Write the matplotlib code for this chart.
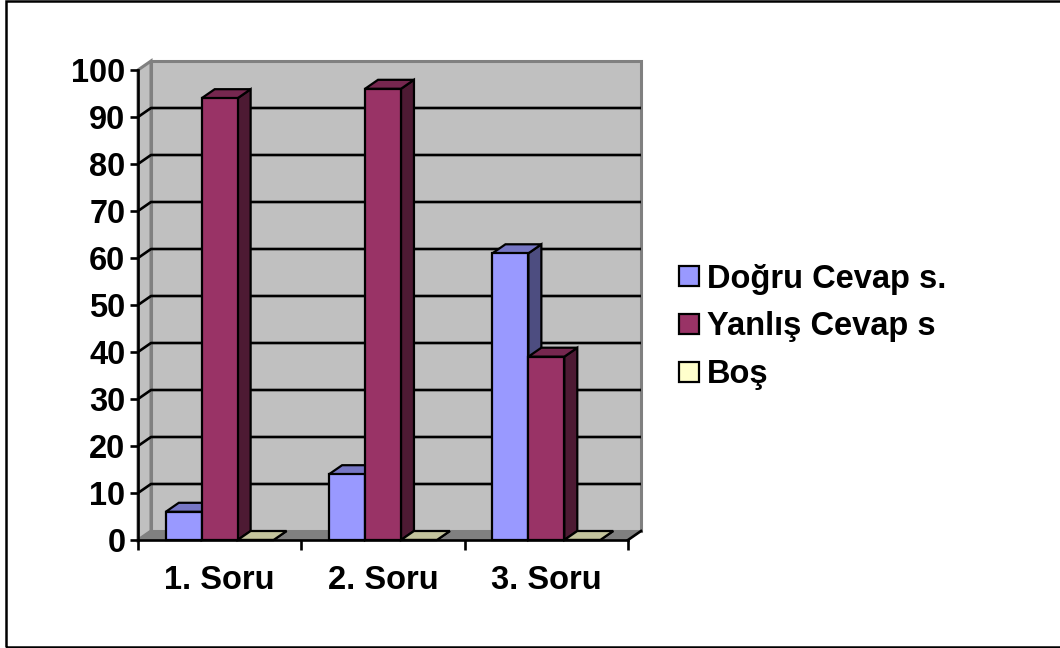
import matplotlib
matplotlib.use("Agg")
import matplotlib.pyplot as plt
from matplotlib.patches import Rectangle, Polygon, Patch
import numpy as np

categories = ["1. Soru", "2. Soru", "3. Soru"]
series_names = ["Doğru Cevap s.", "Yanlış Cevap s", "Boş"]
dogru = [6, 14, 61]
yanlis = [94, 96, 39]
bos = [0, 0, 0]
yticks = [0, 10, 20, 30, 40, 50, 60, 70, 80, 90, 100]

colors = ["#9999FF", "#993366", "#FFFFCC"]


def shade(hex_color, f):
    c = np.array(matplotlib.colors.to_rgb(hex_color))
    return tuple(c * f)


plt.rcParams['font.family'] = ['Liberation Sans', 'DejaVu Sans']
plt.rcParams['font.weight'] = 'bold'
FS = 23.5

fig = plt.figure(figsize=(10.6, 6.48), dpi=100)
ax = fig.add_axes([138 / 1060, 108 / 648, 490 / 1060, 470 / 648])
ax.set_xlim(-0.5, 2.5)
ax.set_ylim(0, 100)
ax.patch.set_visible(False)

# depth offset of the pseudo-3D box, in data units
p0 = ax.transData.transform((0, 0))
ddx, ddy = ax.transData.inverted().transform(p0 + np.array([13, 9]))

wall = "#C0C0C0"
edge_gray = "#808080"
x_lo, x_hi = ax.get_xlim()

# back wall
ax.add_patch(Rectangle((x_lo + ddx, ddy), x_hi - x_lo, 100, facecolor=wall,
                       edgecolor=edge_gray, lw=2.2, clip_on=False, zorder=0))
# left wall
ax.add_patch(Polygon([(x_lo, 0), (x_lo + ddx, ddy), (x_lo + ddx, 100 + ddy), (x_lo, 100)],
                     closed=True, facecolor=wall, edgecolor=edge_gray, lw=2.2,
                     clip_on=False, zorder=0.5))
# floor
ax.add_patch(Polygon([(x_lo, 0), (x_hi, 0), (x_hi + ddx, ddy), (x_lo + ddx, ddy)],
                     closed=True, facecolor=edge_gray, edgecolor=edge_gray, lw=1,
                     clip_on=False, zorder=0.6))

# gridlines on back wall + side wall
for v in yticks[1:-1]:
    ax.plot([x_lo, x_lo + ddx, x_hi + ddx], [v, v + ddy, v + ddy], color="black",
            lw=1.9, clip_on=False, zorder=1, solid_capstyle="butt")
ax.plot([x_hi, x_hi + ddx], [0, ddy], color="black", lw=1.9, clip_on=False, zorder=1)

# bars
width = 0.22
offsets = [-width, 0, width]
all_series = [dogru, yanlis, bos]
for i in range(len(categories)):
    for s, vals in enumerate(all_series):
        v = vals[i]
        x0 = i + offsets[s] - width / 2
        x1 = x0 + width
        col = colors[s]
        side = Polygon([(x1, 0), (x1 + ddx, ddy), (x1 + ddx, v + ddy), (x1, v)], closed=True,
                       facecolor=shade(col, 0.5), edgecolor="black", lw=1.6,
                       clip_on=False, zorder=2)
        top = Polygon([(x0, v), (x1, v), (x1 + ddx, v + ddy), (x0 + ddx, v + ddy)], closed=True,
                      facecolor=shade(col, 0.77), edgecolor="black", lw=1.6,
                      clip_on=False, zorder=2)
        ax.add_patch(side)
        ax.add_patch(top)
        ax.bar(x0, v, width=width, align="edge", color=col, edgecolor="black",
               lw=1.6, zorder=2, clip_on=False)

# axes styling
for sp in ["top", "right"]:
    ax.spines[sp].set_visible(False)
ax.spines["left"].set_linewidth(1.9)
ax.spines["bottom"].set_linewidth(1.9)
ax.spines["left"].set_zorder(3)
ax.spines["bottom"].set_zorder(3)

ax.set_yticks(yticks)
ax.set_yticklabels([str(t) for t in yticks], fontsize=FS, fontweight="bold")
ax.tick_params(axis="y", length=6, width=1.9, pad=3)

ax.set_xticks([-0.5, 0.5, 1.5, 2.5])
ax.set_xticklabels([])
ax.tick_params(axis="x", which="major", length=7, width=1.9)
ax.set_xticks(range(len(categories)), minor=True)
ax.set_xticklabels(categories, minor=True, fontsize=FS, fontweight="bold")
ax.tick_params(axis="x", which="minor", length=0, pad=18)

# legend
handles = [Patch(facecolor=c, edgecolor="black", lw=1.6) for c in colors]
fig.legend(handles, series_names, loc="center left", bbox_to_anchor=(650 / 1060, 1 - 327 / 648),
           frameon=False, prop={"weight": "bold", "size": FS},
           handlelength=0.6, handleheight=0.6, handletextpad=0.25, labelspacing=0.52)

# chart border
fig.add_artist(Rectangle((6 / 1060, 1 / 648), 1.05, 1 - 2 / 648, transform=fig.transFigure,
                         fill=False, edgecolor="black", lw=1.8))

fig.savefig("out.png", dpi=100)
